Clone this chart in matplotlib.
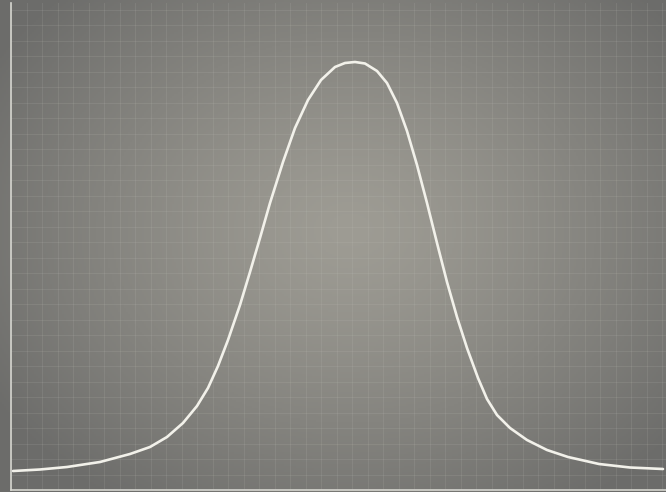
import numpy as np
import matplotlib
matplotlib.use("Agg")
import matplotlib.pyplot as plt

# curve (x from the left axis, y up from the bottom axis)
xs = [2, 29, 56, 89, 119, 139, 156, 172, 186, 197, 207, 217, 229, 239,
      249, 259, 272, 284, 297, 310, 324, 334, 344, 354, 366, 376, 386,
      396, 406, 416, 426, 436, 446, 456, 467, 476, 486, 499, 516, 536,
      557, 588, 619, 652]
ys = [19, 20.5, 23, 28, 36, 43, 53, 67, 84, 102, 124, 150, 185, 218,
      252, 287, 328, 362, 390, 410, 423, 427, 428, 426.5, 419, 407, 387,
      359, 325, 287, 247, 208, 173, 142, 112, 91, 75, 62, 50, 40,
      33, 26, 22.5, 21]

W, H = 666, 492
fig = plt.figure(figsize=(W / 100, H / 100), dpi=100)

# radial gradient background
bg = fig.add_axes([0, 0, 1, 1])
gx, gy = np.meshgrid(np.linspace(0, W, 333), np.linspace(0, H, 246))
r = np.sqrt(((gx - 350) / 420) ** 2 + ((gy - 230) / 330) ** 2)
r = np.clip(r, 0, 1)
c_in = np.array([158, 156, 148]) / 255
c_out = np.array([108, 108, 106]) / 255
img = c_in[None, None, :] * (1 - r[..., None] ** 1.3) + c_out[None, None, :] * (r[..., None] ** 1.3)
bg.imshow(img, extent=[0, W, H, 0], aspect="auto")
bg.set_axis_off()

ax = fig.add_axes([11 / W, 2 / H, 655 / W, 487 / H])
ax.patch.set_alpha(0)
ax.plot(xs, ys, color="#f2f1ea", lw=1.9, solid_capstyle="round", solid_joinstyle="round")
ax.set_xlim(0, 655)
ax.set_ylim(0, 487)

ax.set_xticks(np.arange(0, 656, 15.5))
ax.set_yticks(np.arange(0, 488, 15.5))
ax.grid(True, color="#c8c8c0", alpha=0.13, lw=0.8)
ax.tick_params(length=0, labelbottom=False, labelleft=False)
for s in ["top", "right"]:
    ax.spines[s].set_visible(False)
for s in ["left", "bottom"]:
    ax.spines[s].set_color("#d6d6d0")
    ax.spines[s].set_linewidth(1.2)

fig.savefig("out.png", dpi=100)
